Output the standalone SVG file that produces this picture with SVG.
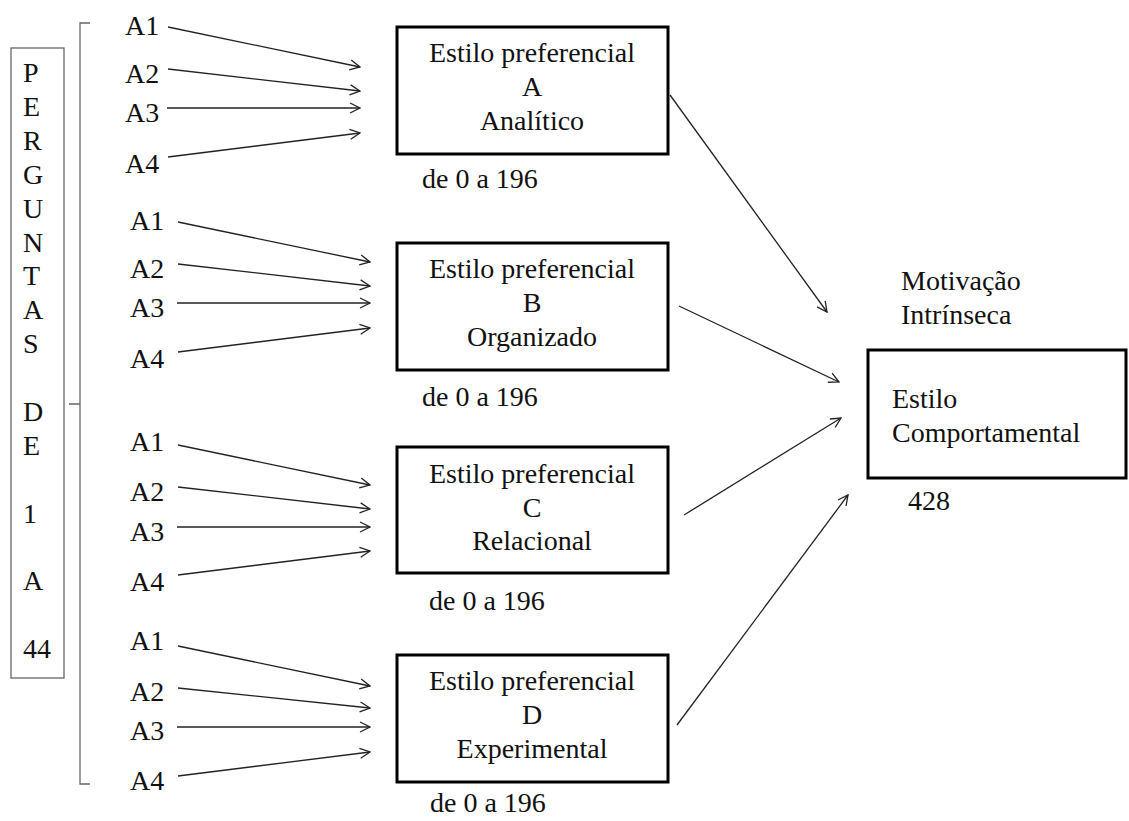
<svg xmlns="http://www.w3.org/2000/svg" width="1129" height="821" viewBox="0 0 1129 821">
<style>
text{font-family:'Liberation Serif','Times New Roman',Times,'DejaVu Serif',serif;font-size:28px;fill:#111}
.c{text-anchor:middle}
.box{fill:none;stroke:#000;stroke-width:3}
.thin{fill:none;stroke:#666;stroke-width:1.3}
.arr{stroke:#222;stroke-width:1.3;fill:none;marker-end:url(#ah)}
</style>
<defs>
<marker id="ah" viewBox="0 0 12 12" refX="11" refY="6" markerWidth="12" markerHeight="12" markerUnits="userSpaceOnUse" orient="auto">
<path d="M1,1 L11,6 L1,11" fill="none" stroke="#222" stroke-width="1.3"/>
</marker>
</defs>
<rect width="1129" height="821" fill="#fff"/>
<g font-family="Liberation Serif, Times New Roman, DejaVu Serif, serif">
<g id="perguntas">
<rect class="thin" x="11" y="48" width="53" height="630"/>
<text x="23" y="82">P</text>
<text x="23" y="116">E</text>
<text x="23" y="150">R</text>
<text x="23" y="184">G</text>
<text x="23" y="218">U</text>
<text x="23" y="252">N</text>
<text x="23" y="285">T</text>
<text x="23" y="319">A</text>
<text x="23" y="353">S</text>
<text x="23" y="421">D</text>
<text x="23" y="455">E</text>
<text x="23" y="523">1</text>
<text x="23" y="590">A</text>
<text x="23" y="658">44</text>
</g>

<g id="bracket">
<path class="thin" d="M90,23 L80,23 L80,784 L90,784 M80,404 L69,404"/>
</g>

<g id="labels-A">
<text x="125" y="35">A1</text>
<text x="125" y="83">A2</text>
<text x="125" y="122">A3</text>
<text x="125" y="173">A4</text>
</g>
<g id="labels-B">
<text x="130" y="230">A1</text>
<text x="130" y="278">A2</text>
<text x="130" y="317">A3</text>
<text x="130" y="368">A4</text>
</g>
<g id="labels-C">
<text x="130" y="451">A1</text>
<text x="130" y="501">A2</text>
<text x="130" y="541">A3</text>
<text x="130" y="591">A4</text>
</g>
<g id="labels-D">
<text x="130" y="650">A1</text>
<text x="130" y="701">A2</text>
<text x="130" y="740">A3</text>
<text x="130" y="790">A4</text>
</g>

<g id="estilo-A">
<rect class="box" x="397" y="27" width="271" height="127"/>
<text class="c" x="532" y="62">Estilo preferencial</text>
<text class="c" x="532" y="96">A</text>
<text class="c" x="532" y="130">Analítico</text>
<text x="422" y="188">de 0 a 196</text>
</g>
<g id="estilo-B">
<rect class="box" x="397" y="243" width="271" height="127"/>
<text class="c" x="532" y="278">Estilo preferencial</text>
<text class="c" x="532" y="312">B</text>
<text class="c" x="532" y="346">Organizado</text>
<text x="422" y="406">de 0 a 196</text>
</g>
<g id="estilo-C">
<rect class="box" x="397" y="447" width="271" height="126"/>
<text class="c" x="532" y="483">Estilo preferencial</text>
<text class="c" x="532" y="517">C</text>
<text class="c" x="532" y="550">Relacional</text>
<text x="429" y="610">de 0 a 196</text>
</g>
<g id="estilo-D">
<rect class="box" x="397" y="655" width="271" height="127"/>
<text class="c" x="532" y="690">Estilo preferencial</text>
<text class="c" x="532" y="724">D</text>
<text class="c" x="532" y="758">Experimental</text>
<text x="430" y="812">de 0 a 196</text>
</g>

<g id="comportamental">
<text x="901" y="290">Motivação</text>
<text x="901" y="324">Intrínseca</text>
<rect class="box" x="868" y="350" width="258" height="128"/>
<text x="892" y="408">Estilo</text>
<text x="892" y="442">Comportamental</text>
<text x="908" y="510">428</text>
</g>
</g>
<g id="connectors">
<line class="arr" x1="168" y1="27" x2="360" y2="67"/>
<line class="arr" x1="168" y1="69" x2="360" y2="91"/>
<line class="arr" x1="167" y1="108" x2="360" y2="108"/>
<line class="arr" x1="168" y1="157" x2="360" y2="133"/>

<line class="arr" x1="178" y1="222" x2="370" y2="262"/>
<line class="arr" x1="178" y1="264" x2="370" y2="286"/>
<line class="arr" x1="177" y1="303" x2="370" y2="303"/>
<line class="arr" x1="178" y1="352" x2="370" y2="328"/>

<line class="arr" x1="178" y1="445" x2="370" y2="485"/>
<line class="arr" x1="178" y1="487" x2="370" y2="509"/>
<line class="arr" x1="177" y1="527" x2="370" y2="527"/>
<line class="arr" x1="178" y1="575" x2="370" y2="551"/>

<line class="arr" x1="178" y1="646" x2="370" y2="686"/>
<line class="arr" x1="178" y1="688" x2="370" y2="708"/>
<line class="arr" x1="177" y1="727" x2="370" y2="727"/>
<line class="arr" x1="178" y1="776" x2="370" y2="752"/>

<line class="arr" x1="670" y1="95" x2="827" y2="312"/>
<line class="arr" x1="679" y1="306" x2="839" y2="382"/>
<line class="arr" x1="684" y1="515" x2="841" y2="418"/>
<line class="arr" x1="677" y1="725" x2="848" y2="495"/>
</g>
</svg>
